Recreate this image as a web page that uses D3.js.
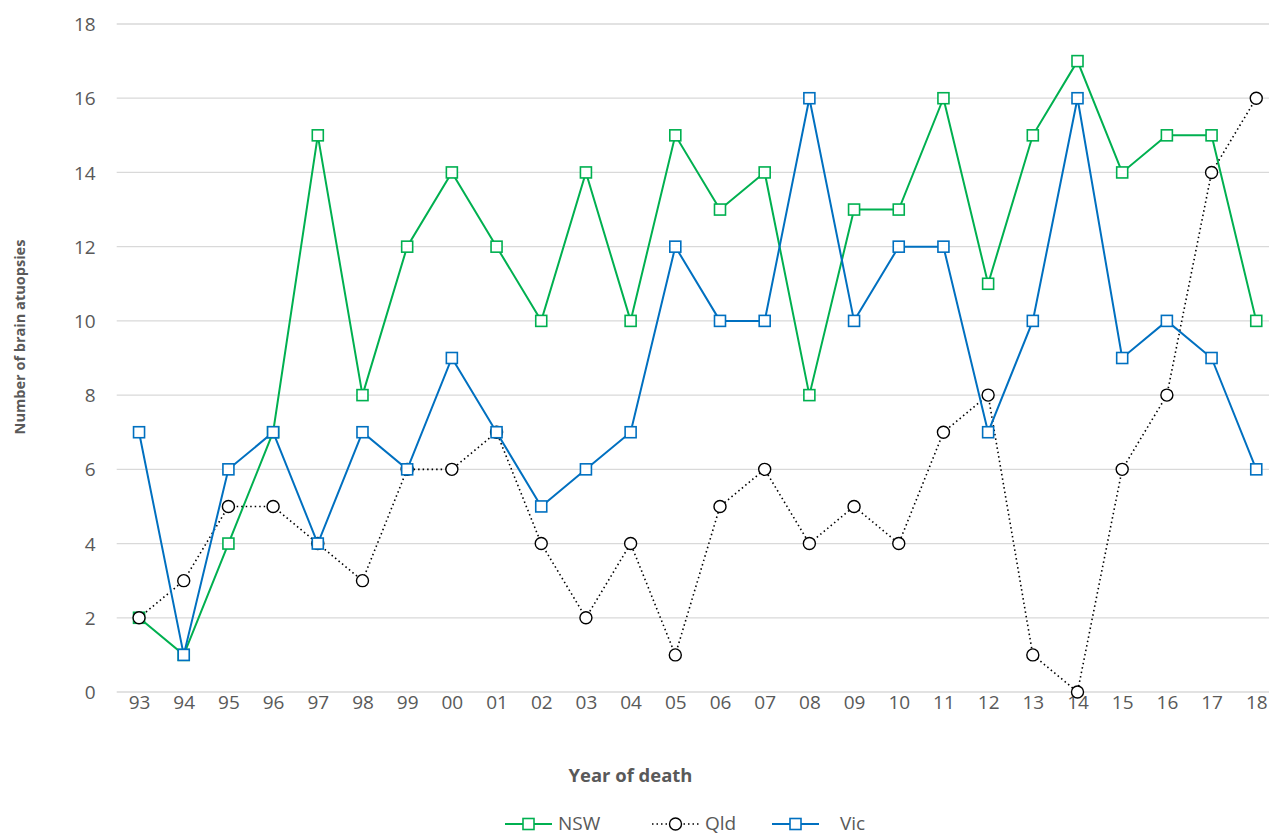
<!DOCTYPE html>
<html><head><meta charset="utf-8">
<script src="https://cdn.jsdelivr.net/npm/d3@7"></script>
<style>body{margin:0;background:#fff}svg{display:block}text{font-family:"Open Sans",Lato,sans-serif}</style>
</head><body><svg id="c" width="1269" height="836"></svg>
<script>
const years = ["93","94","95","96","97","98","99","00","01","02","03","04","05","06","07","08","09","10","11","12","13","14","15","16","17","18"];
const nsw = [2,1,4,7,15,8,12,14,12,10,14,10,15,13,14,8,13,13,16,11,15,17,14,15,15,10];
const qld = [2,3,5,5,4,3,6,6,7,4,2,4,1,5,6,4,5,4,7,8,1,0,6,8,14,16];
const vic = [7,1,6,7,4,7,6,9,7,5,6,7,12,10,10,16,10,12,12,7,10,16,9,10,9,6];
const yTicks = [0,2,4,6,8,10,12,14,16,18];
const seriesNames = ["NSW","Qld","Vic"];

(function(){
const svg = d3.select("#c");
const FONT = '"Open Sans",Lato,sans-serif';
const pLeft = 116.7, pRight = 1278.6, pTop = 24, pBottom = 692;
const x = d3.scalePoint().domain(years).range([pLeft, pRight]).padding(0.5);
const y = d3.scaleLinear().domain([0,18]).range([pBottom, pTop]);

svg.append("g").selectAll("line").data(yTicks).join("line")
  .attr("x1", pLeft).attr("x2", 1269).attr("y1", d=>y(d)).attr("y2", d=>y(d))
  .attr("stroke", "#d9d9d9").attr("stroke-width", 1.3);

const ya = svg.append("g").attr("transform", `translate(${pLeft},0)`)
  .call(d3.axisLeft(y).tickValues(yTicks).tickSize(0).tickPadding(21));
ya.select(".domain").remove();
ya.selectAll("text").attr("font-size", 19).attr("fill", "#595959").attr("font-family",FONT).attr("dy","0.35em");

const xa = svg.append("g").attr("transform", `translate(0,${pBottom})`)
  .call(d3.axisBottom(x).tickSize(0).tickPadding(3));
xa.select(".domain").remove();
xa.selectAll("text").attr("font-size", 19).attr("fill", "#595959").attr("font-family",FONT);

function fitText(t, w){
  const len = t.node().getComputedTextLength();
  const fs = parseFloat(t.attr("font-size"));
  if(len>0) t.attr("font-size", fs*w/len);
}
const xt = svg.append("text").attr("x", 630.5).attr("y", 782).attr("text-anchor","middle")
  .attr("font-size", 16).attr("font-weight","bold").attr("fill","#595959").attr("font-family",FONT).text("Year of death");
fitText(xt, 124);
const yt = svg.append("text").attr("transform","translate(25,337) rotate(-90)").attr("text-anchor","middle")
  .attr("font-size", 16).attr("font-weight","bold").attr("fill","#595959").attr("font-family",FONT).text("Number of brain atuopsies");
fitText(yt, 195);

const line = d3.line().x((d,i)=>x(years[i])).y(d=>y(d));
const cfg = [
  {name:"NSW", data:nsw, color:"#00b050", dash:null, shape:"square"},
  {name:"Qld", data:qld, color:"#000000", dash:"1.5,3", shape:"circle"},
  {name:"Vic", data:vic, color:"#0070c0", dash:null, shape:"square"}
];
function marker(g, shape, color, cx, cy){
  if(shape==="square"){
    g.append("rect").attr("x", cx-5.5).attr("y", cy-5.5).attr("width", 11).attr("height", 11)
      .attr("fill","#fff").attr("stroke", color).attr("stroke-width", 1.6);
  } else {
    g.append("circle").attr("cx", cx).attr("cy", cy).attr("r", 6)
      .attr("fill","#fff").attr("stroke", color).attr("stroke-width", 1.4);
  }
}
cfg.forEach(s=>{
  const g = svg.append("g");
  g.append("path").datum(s.data).attr("d", line).attr("fill","none")
    .attr("stroke", s.color).attr("stroke-width", s.dash?1.6:2)
    .attr("stroke-dasharray", s.dash);
  s.data.forEach((v,i)=>marker(g, s.shape, s.color, x(years[i]), y(v)));
});

const legX = [505, 652, 772];
const legTextX = [558, 705, 840];
cfg.forEach((s,i)=>{
  const g = svg.append("g");
  const ly = 824;
  g.append("line").attr("x1", legX[i]).attr("x2", legX[i]+47).attr("y1", ly).attr("y2", ly)
    .attr("stroke", s.color).attr("stroke-width", s.dash?1.6:2).attr("stroke-dasharray", s.dash);
  marker(g, s.shape, s.color, legX[i]+23.5, ly);
  g.append("text").attr("x", legTextX[i]).attr("y", 830).attr("font-size", 19).attr("font-family",FONT)
    .attr("fill","#595959").text(seriesNames[i]);
});
})();
</script></body></html>
